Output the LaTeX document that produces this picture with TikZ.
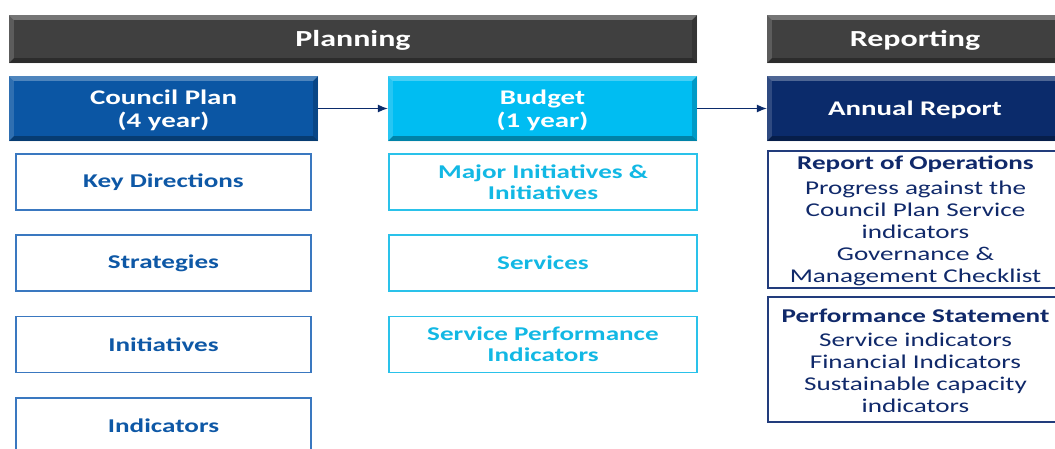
\documentclass[tikz,border=0pt]{standalone}
\usepackage{fontspec}
\setmainfont{Carlito}[FakeStretch=1.39]
\usetikzlibrary{arrows.meta}
\definecolor{barg}{HTML}{404040}
\definecolor{cpblue}{HTML}{0B56A4}
\definecolor{bdcyan}{HTML}{00BDF2}
\definecolor{arnavy}{HTML}{0B2B6B}
\definecolor{ltxt}{HTML}{0E58A6}
\definecolor{lbrd}{HTML}{3A78C0}
\definecolor{mtxt}{HTML}{12B8E4}
\definecolor{mbrd}{HTML}{2AC2EA}
\definecolor{rtxt}{HTML}{10296A}
\definecolor{rbrd}{HTML}{223C7C}
\newcommand{\bevel}[1]{%
  \fill[white,opacity=.28] (#1.north west) -- (#1.north east) -- ([shift={(-5pt,-5pt)}]#1.north east) -- ([shift={(5pt,-5pt)}]#1.north west) -- cycle;
  \fill[white,opacity=.15] (#1.north west) -- ([shift={(5pt,-5pt)}]#1.north west) -- ([shift={(5pt,5pt)}]#1.south west) -- (#1.south west) -- cycle;
  \fill[black,opacity=.30] (#1.south west) -- (#1.south east) -- ([shift={(-5pt,5pt)}]#1.south east) -- ([shift={(5pt,5pt)}]#1.south west) -- cycle;
  \fill[black,opacity=.18] (#1.north east) -- ([shift={(-5pt,-5pt)}]#1.north east) -- ([shift={(-5pt,5pt)}]#1.south east) -- (#1.south east) -- cycle;
}
\tikzset{
  bar/.style={fill=barg, text=white, minimum height=48pt, inner sep=0pt,
    font=\fontsize{23}{27}\selectfont\bfseries},
  head/.style={minimum height=65pt, inner sep=0pt, text=white, align=center,
    font=\fontsize{20.8}{23}\selectfont\bfseries},
  lbox/.style={draw=lbrd, line width=1.2pt, fill=white, text=ltxt, minimum width=295pt,
    minimum height=56pt, inner sep=0pt, align=center, font=\fontsize{19.5}{21}\selectfont\bfseries},
  mbox/.style={draw=mbrd, line width=1.2pt, fill=white, text=mtxt, minimum width=308pt,
    minimum height=56pt, inner sep=0pt, align=center, font=\fontsize{19.5}{21}\selectfont\bfseries},
  rbox/.style={draw=rbrd, line width=1.2pt, fill=white, text=rtxt, minimum width=295pt,
    inner sep=0pt, align=center, font=\fontsize{19.5}{22}\selectfont},
  shade/.style={fill=black!12, opacity=.5},
  conn/.style={draw=arnavy, line width=1.1pt, -{Latex[length=10pt,width=8pt]}},
}
\begin{document}
\begin{tikzpicture}[x=1pt,y=-1pt]
\useasboundingbox (0,0) rectangle (1055,448);
\fill[white] (0,0) rectangle (1055,448);
% header bars
\node[bar, minimum width=688pt] (plan) at (353,39) {};
\node[bar, minimum width=296pt] (rep) at (915,39) {};
\bevel{plan}\bevel{rep}
\node[bar, fill=none, yshift=-1.5pt] (plant) at (plan) {Planning};
\node[bar, fill=none, yshift=-1.5pt] (rept) at (rep) {Reporting};
% column heads
\node[head, fill=cpblue, minimum width=309pt] (cp) at (163.5,108.5) {};
\node[head, fill=bdcyan, minimum width=309pt] (bd) at (542.5,108.5) {};
\node[head, fill=arnavy, minimum width=296pt] (ar) at (915,108.5) {};
\bevel{cp}\bevel{bd}\bevel{ar}
\node[head, minimum height=0pt, yshift=-1.5pt] (cpt) at (cp) {Council Plan\\(4 year)};
\node[head, minimum height=0pt, yshift=-1.5pt] (bdt) at (bd) {Budget\\(1 year)};
\node[head, minimum height=0pt, yshift=-1.5pt] (art) at (ar) {Annual Report};
% arrows
\draw[conn] (cp.east) -- (bd.west);
\draw[conn] (bd.east) -- (ar.west);
% left column
\node[lbox] (kd) at (163.5,182) {Key Directions};
\node[lbox] (st) at (163.5,263) {Strategies};
\node[lbox] (in) at (163.5,344.5) {Initiatives};
\node[lbox] (ind) at (163.5,426) {Indicators};
% middle column
\node[mbox] (mi) at (543,182) {Major Initiatives \&\\Initiatives};
\node[mbox] (sv) at (543,263) {Services};
\node[mbox] (spi) at (543,344.5) {Service Performance\\Indicators};
% right column
\node[rbox, minimum height=137pt] (ro) at (915.5,219.5) {};
\node[rbox, minimum height=125pt] (ps) at (915.5,359.5) {};
\node[rbox, draw=none, fill=none, yshift=-1.5pt] (rot) at (ro) {\textbf{Report of Operations}\\[2.5pt]Progress against the\\Council Plan Service\\indicators\\Governance \&\\Management Checklist};
\node[rbox, draw=none, fill=none, yshift=-1.5pt] (pst) at (ps) {\textbf{Performance Statement}\\[2pt]Service indicators\\Financial Indicators\\Sustainable capacity\\indicators};
\end{tikzpicture}
\end{document}
